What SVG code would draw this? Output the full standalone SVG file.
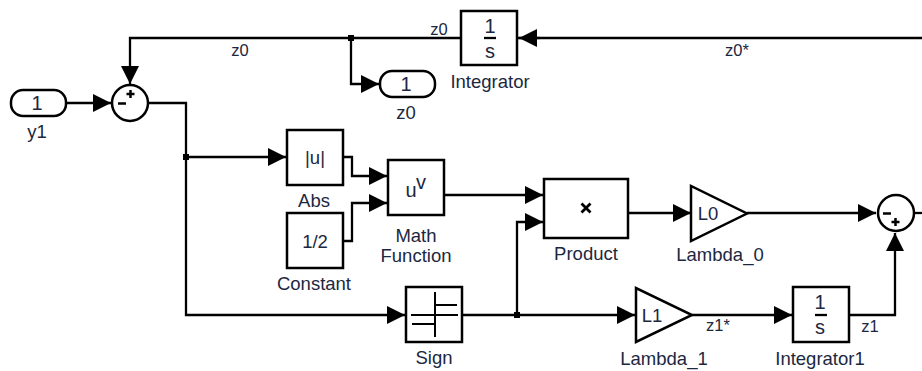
<svg xmlns="http://www.w3.org/2000/svg" width="922" height="371" viewBox="0 0 922 371">
<style>
.b{fill:#fff;stroke:#000;stroke-width:2.500}
.w{fill:none;stroke:#000;stroke-width:2.300}
.c{fill:none;stroke:#000;stroke-width:2.500}
text{font-family:"Liberation Sans",Arial,sans-serif;fill:#1c2740;font-size:18.500px;text-anchor:middle}
.s{font-size:16.500px}
.n{font-size:20px}
</style>
<defs>
<marker id="a" markerUnits="userSpaceOnUse" markerWidth="18" markerHeight="18" refX="18" refY="9" orient="auto"><path d="M0 0L18 9L0 18Z" fill="#000"/></marker>
</defs>
<g id="connectors">
<path class="w" d="M517 38H922" />
<path class="w" d="M540 38H519" marker-end="url(#a)"/>
<path class="w" d="M461 38H130V84" marker-end="url(#a)"/>
<path class="w" d="M351 38V84H379" marker-end="url(#a)"/>
<path class="w" d="M67 103H111" marker-end="url(#a)"/>
<path class="w" d="M149 103H186V315H405" marker-end="url(#a)"/>
<path class="w" d="M186 157H286" marker-end="url(#a)"/>
<path class="w" d="M343 157H352V176H387" marker-end="url(#a)"/>
<path class="w" d="M343 241H352V203H387" marker-end="url(#a)"/>
<path class="w" d="M444 195H543" marker-end="url(#a)"/>
<path class="w" d="M517 315V222H543" marker-end="url(#a)"/>
<path class="w" d="M462 315H635" marker-end="url(#a)"/>
<path class="w" d="M628 213H691" marker-end="url(#a)"/>
<path class="w" d="M747 213H876" marker-end="url(#a)"/>
<path class="w" d="M692 315H792" marker-end="url(#a)"/>
<path class="w" d="M849 315H895V233" marker-end="url(#a)"/>
<path class="w" d="M915 213H922"/>
<rect x="348" y="35" width="6" height="6" fill="#000"/>
<rect x="183" y="154" width="6" height="6" fill="#000"/>
<rect x="514" y="312" width="6" height="6" fill="#000"/>
<text class="s" x="240" y="56">z0</text>
<text class="s" x="439" y="35">z0</text>
<text class="s" x="737" y="56">z0*</text>
<text class="s" x="718" y="331">z1*</text>
<text class="s" x="870" y="332">z1</text>
</g>
<g id="y1"><rect class="b" x="11" y="90" width="55" height="26" rx="12"/><text class="n" x="37" y="110">1</text><text x="37" y="138">y1</text></g>
<g id="sum1"><circle class="b" cx="130" cy="103" r="18"/><path class="c" d="M118 103.500H126M130.500 90V98M126.500 94H134.500"/></g>
<g id="z0"><rect class="b" x="380" y="71" width="55" height="26" rx="12"/><text class="n" x="406" y="91">1</text><text x="406" y="119">z0</text></g>
<g id="integrator"><rect class="b" x="461" y="11" width="56" height="54"/><text class="n" x="490" y="33">1</text><path class="w" d="M484 38H496"/><text class="n" x="490" y="58">s</text><text x="490" y="88">Integrator</text></g>
<g id="abs"><rect class="b" x="287" y="130" width="56" height="55"/><text x="315" y="164">|u|</text><text x="314" y="207">Abs</text></g>
<g id="constant"><rect class="b" x="287" y="213" width="56" height="55"/><text x="315" y="248">1/2</text><text x="314" y="290">Constant</text></g>
<g id="math"><rect class="b" x="388" y="160" width="56" height="55"/><text class="n" x="411" y="197">u</text><text class="n" x="421" y="189">v</text><text x="416" y="242">Math</text><text x="416" y="262">Function</text></g>
<g id="product"><rect class="b" x="544" y="179" width="84" height="59"/><path d="M581.500 203.500L590.500 212.500M590.500 203.500L581.500 212.500" fill="none" stroke="#000" stroke-width="2.800"/><text x="586" y="260">Product</text></g>
<g id="lambda0"><path class="b" d="M691 186V241L747 213.500Z"/><text x="708" y="220">L0</text><text x="720" y="261">Lambda_0</text></g>
<g id="sum2"><circle class="b" cx="896" cy="213" r="18"/><path class="c" d="M883 213.500H891M895.500 218V226M891.500 222H899.500"/></g>
<g id="sign"><rect class="b" x="406" y="287" width="56" height="55"/><path d="M411 315H458M435 292V337M435 305H457M412 324H435" fill="none" stroke="#000" stroke-width="2"/><text x="434" y="364">Sign</text></g>
<g id="lambda1"><path class="b" d="M636 288V342L692 315Z"/><text x="652" y="322">L1</text><text x="664" y="365">Lambda_1</text></g>
<g id="integrator1"><rect class="b" x="793" y="287" width="56" height="55"/><text class="n" x="820" y="309">1</text><path class="w" d="M815 315H827"/><text class="n" x="820" y="334">s</text><text x="820" y="365">Integrator1</text></g>
</svg>
